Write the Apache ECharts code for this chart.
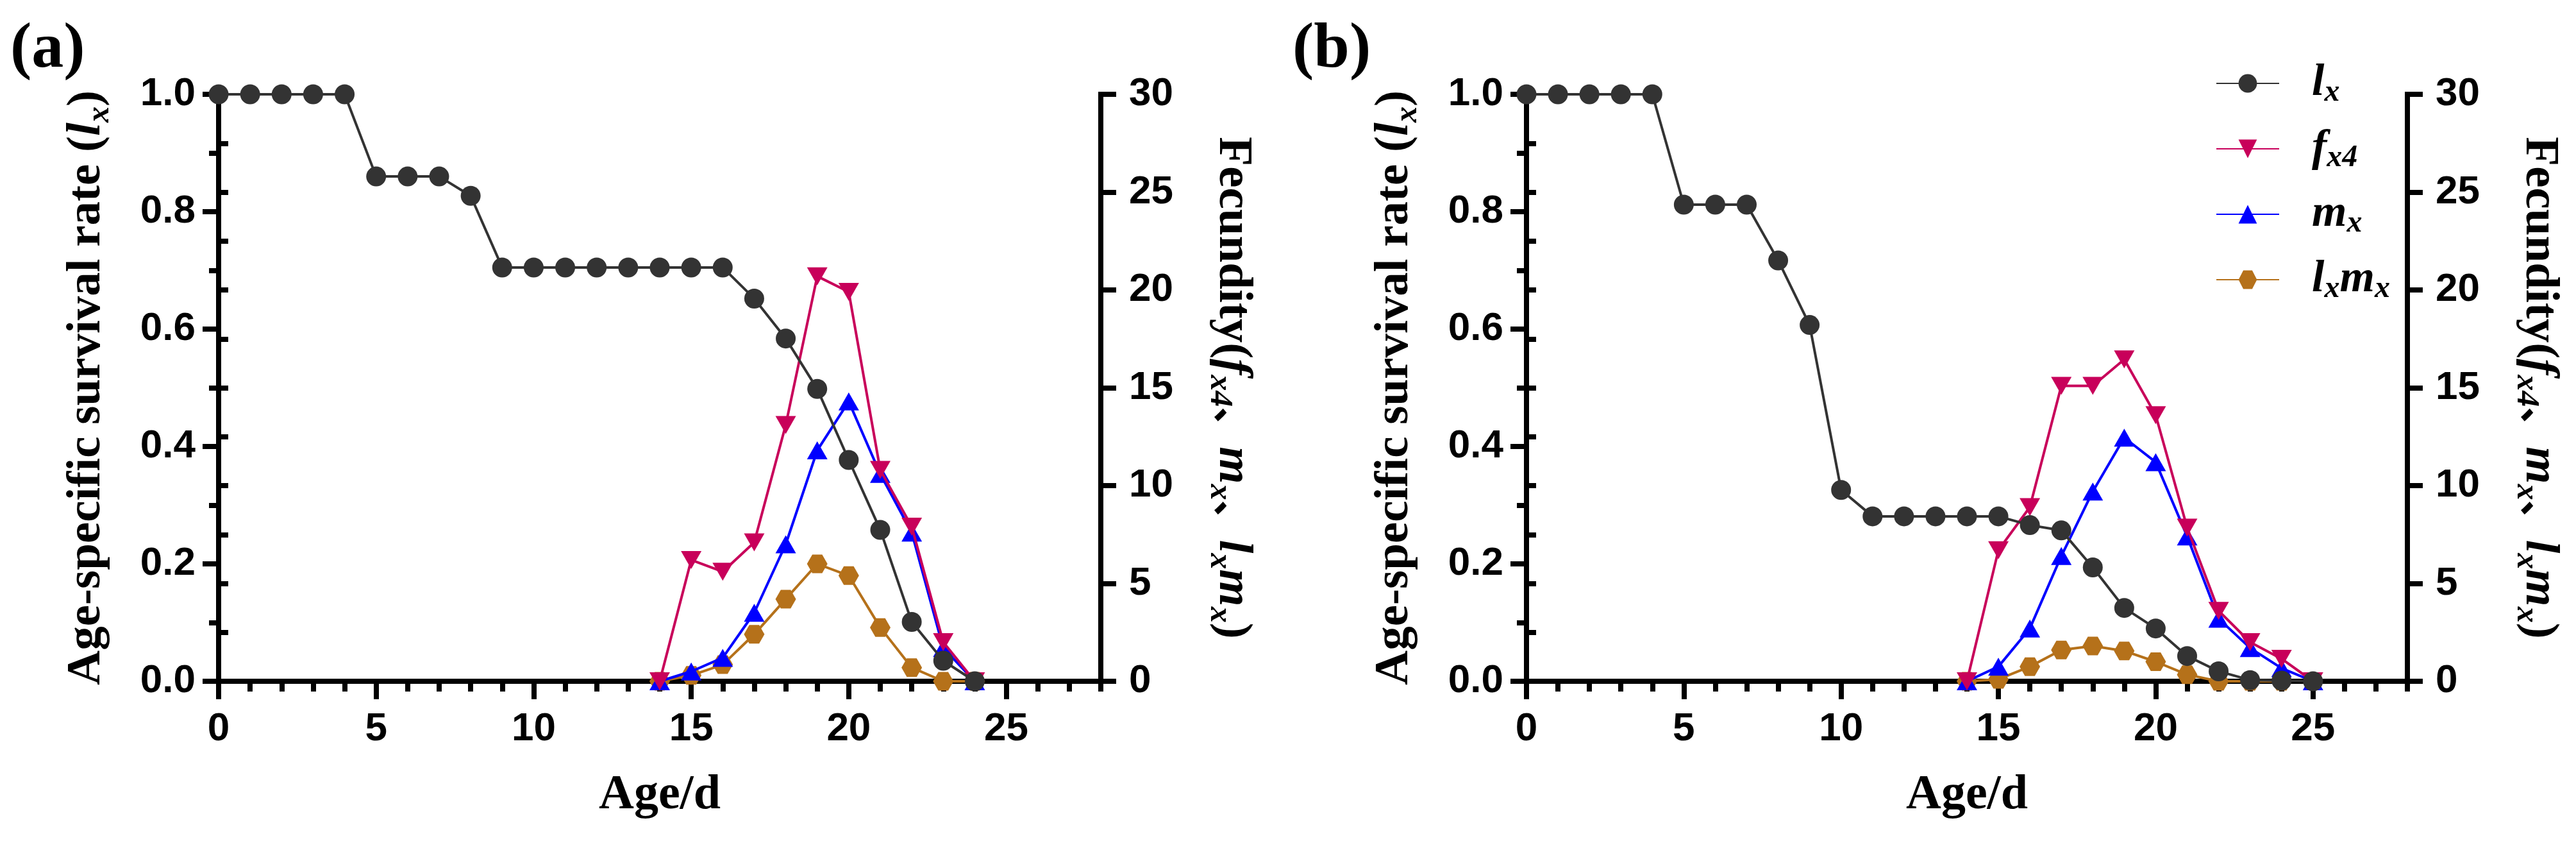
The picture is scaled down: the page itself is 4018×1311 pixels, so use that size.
<!DOCTYPE html>
<html>
<head>
<meta charset="utf-8">
<script src="https://cdn.jsdelivr.net/npm/echarts@6/dist/echarts.min.js"></script>
<style>
html,body{margin:0;padding:0;background:#fff}
#chart{width:4018px;height:1311px}
</style>
</head>
<body>
<div id="chart"></div>
<script>
// panel (a)
const agesA = [0,1,2,3,4,5,6,7,8,9,10,11,12,13,14,15,16,17,18,19,20,21,22,23,24];
const lxA = [1,1,1,1,1,0.86,0.86,0.86,0.827,0.705,0.705,0.705,0.705,0.705,0.705,0.705,0.705,0.652,0.584,0.498,0.377,0.258,0.101,0.035,0];
const fertAgesA = [14,15,16,17,18,19,20,21,22,23,24];
const fx4A = [0,6.2,5.6,7.1,13.1,20.7,19.9,10.8,7.9,2.0,0];
const mxA = [0,0.5,1.2,3.5,7.0,11.8,14.3,10.6,7.6,1.7,0];
const lxmxA = [0,0.3,0.85,2.4,4.2,6.0,5.4,2.75,0.7,0,0];

// panel (b)
const agesB = [0,1,2,3,4,5,6,7,8,9,10,11,12,13,14,15,16,17,18,19,20,21,22,23,24,25];
const lxB = [1,1,1,1,1,0.812,0.812,0.812,0.717,0.607,0.326,0.281,0.281,0.281,0.281,0.281,0.266,0.257,0.194,0.125,0.09,0.043,0.017,0.002,0.001,0];
const fertAgesB = [14,15,16,17,18,19,20,21,22,23,24,25];
const fx4B = [0,6.7,8.9,15.1,15.1,16.45,13.6,7.85,3.6,2.0,1.15,0];
const mxB = [0,0.75,2.7,6.4,9.7,12.45,11.2,7.4,3.2,1.7,0.67,0];
const lxmxAgesB = [14,15,16,17,18,19,20,21,22,23,24];
const lxmxB = [0,0.1,0.75,1.6,1.8,1.55,1.0,0.34,0,0,0];

const xTicks = [0,5,10,15,20,25];

const serif = 'Liberation Serif';
const sans = 'Liberation Sans';
const downTri = 'path://M0,0 L10,0 L5,8.66 Z';
const hexagon = 'path://M0,5 L2.6,0 L7.4,0 L10,5 L7.4,10 L2.6,10 Z';
const AXW = 8;

const chart = echarts.init(document.getElementById('chart'));

const titleRich = {
    t: {fontFamily: serif, fontWeight: 'bold', fontSize: 75, lineHeight: 90, color: '#000'},
    i: {fontFamily: serif, fontWeight: 'bold', fontStyle: 'italic', fontSize: 75, lineHeight: 90, color: '#000'},
    s: {fontFamily: serif, fontWeight: 'bold', fontStyle: 'italic', fontSize: 50, lineHeight: 50, verticalAlign: 'bottom', color: '#000'},
    c: {fontFamily: 'Noto Sans CJK SC', fontWeight: 'bold', fontSize: 62, lineHeight: 90, color: '#000'}
};
const leftName = '{t|Age-specific survival rate (}{i|l}{s|x}{t|)}';
const rightName = '{t|Fecundity(}{i|f}{s|x4}{c|、}{i|m}{s|x}{c|、}{i|l}{s|x}{i|m}{s|x}{t|)}';

function axisLine() {
    return {show: true, onZero: false, lineStyle: {color: '#000', width: AXW, cap: 'square'}};
}

function xAxis(grid) {
    return {
        type: 'value', gridIndex: grid, position: 'bottom', min: 0, max: 28, interval: 5,
        name: 'Age/d', nameLocation: 'middle', nameGap: 140,
        nameTextStyle: {fontFamily: serif, fontWeight: 'bold', fontSize: 76, color: '#000'},
        axisLine: axisLine(),
        axisTick: {show: true, length: 28, customValues: xTicks, lineStyle: {color: '#000', width: AXW}},
        axisLabel: {customValues: xTicks, margin: 44, fontFamily: sans, fontWeight: 'bold', fontSize: 62, color: '#000'},
        splitLine: {show: false}
    };
}

// short ticks only, drawn on the same scale as the main axis
function xMinor(grid) {
    return {
        type: 'value', gridIndex: grid, position: 'bottom', min: 0, max: 28, interval: 1,
        axisLine: {show: false},
        axisTick: {show: true, length: 16, lineStyle: {color: '#000', width: AXW}},
        axisLabel: {show: false}, splitLine: {show: false}
    };
}

function yLeft(grid) {
    return {
        type: 'value', gridIndex: grid, position: 'left', min: 0, max: 1, interval: 0.2,
        name: leftName, nameLocation: 'middle', nameRotate: 90, nameGap: 160,
        nameTextStyle: {rich: titleRich},
        axisLine: axisLine(),
        axisTick: {show: true, length: 25, lineStyle: {color: '#000', width: AXW}},
        axisLabel: {margin: 36, fontFamily: sans, fontWeight: 'bold', fontSize: 62, color: '#000',
            formatter: v => v.toFixed(1)},
        splitLine: {show: false}
    };
}

function yRight(grid) {
    return {
        type: 'value', gridIndex: grid, position: 'right', min: 0, max: 30, interval: 5,
        name: rightName, nameLocation: 'middle', nameRotate: -90, nameGap: 160,
        nameTextStyle: {rich: titleRich},
        axisLine: axisLine(),
        axisTick: {show: true, length: 24, lineStyle: {color: '#000', width: AXW}},
        axisLabel: {margin: 44, fontFamily: sans, fontWeight: 'bold', fontSize: 62, color: '#000'},
        splitLine: {show: false}
    };
}

function yMinor(grid, pos, max, step) {
    return {
        type: 'value', gridIndex: grid, position: pos, min: 0, max: max, interval: step,
        axisLine: {show: false},
        axisTick: {show: true, length: 15, lineStyle: {color: '#000', width: AXW}},
        axisLabel: {show: false}, splitLine: {show: false}
    };
}

function line(name, grid, yIdx, ages, vals, symbol, size, color, z) {
    return {
        name: name, type: 'line', xAxisIndex: grid, yAxisIndex: yIdx,
        data: ages.map((a, i) => [a, vals[i]]),
        symbol: symbol, symbolSize: size, showAllSymbol: true, z: z,
        itemStyle: {color: color, opacity: 1},
        lineStyle: {color: color, width: 4},
        emphasis: {disabled: true}
    };
}

const cLx = '#333333', cFx = '#C8005A', cMx = '#0000FF', cLm = '#B5711A';

const legendNames = {
    lx: '{g|}{i|l}{s|x}',
    fx4: '{g|}{i|f}{s|x4}',
    mx: '{g|}{i|m}{s|x}',
    lxmx: '{g|}{i|l}{s|x}{i|m}{s|x}'
};

chart.setOption({
    animation: false,
    backgroundColor: '#fff',
    title: [
        {text: '(a)', left: 16, top: 28, padding: 0, textStyle: {fontFamily: serif, fontWeight: 'bold', fontSize: 100, color: '#000'}},
        {text: '(b)', left: 2016, top: 28, padding: 0, textStyle: {fontFamily: serif, fontWeight: 'bold', fontSize: 100, color: '#000'}}
    ],
    legend: {
        orient: 'vertical', left: 3456, top: 95, padding: 0, itemGap: 28,
        itemWidth: 98, itemHeight: 36,
        data: ['lx', 'fx4', 'mx', 'lxmx'],
        formatter: n => legendNames[n],
        textStyle: {
            rich: {
                g: {width: 46},
                i: {fontFamily: serif, fontWeight: 'bold', fontStyle: 'italic', fontSize: 70, lineHeight: 78, color: '#000'},
                s: {fontFamily: serif, fontWeight: 'bold', fontStyle: 'italic', fontSize: 48, lineHeight: 48, verticalAlign: 'bottom', color: '#000'}
            }
        }
    },
    grid: [
        {left: 341, top: 147, width: 1376, height: 915},
        {left: 2381, top: 147, width: 1374, height: 915}
    ],
    xAxis: [xAxis(0), xAxis(1), xMinor(0), xMinor(1)],
    yAxis: [yLeft(0), yRight(0), yLeft(1), yRight(1),
        yMinor(0, 'left', 1, 0.1), yMinor(0, 'right', 30, 2.5),
        yMinor(1, 'left', 1, 0.1), yMinor(1, 'right', 30, 2.5)],
    series: [
        line('lx', 0, 0, agesA, lxA, 'circle', 31, cLx, 5),
        line('fx4', 0, 1, fertAgesA, fx4A, downTri, [32, 28], cFx, 4),
        line('mx', 0, 1, fertAgesA, mxA, 'triangle', [32, 28], cMx, 3),
        line('lxmx', 0, 1, fertAgesA, lxmxA, hexagon, [32, 29], cLm, 2),
        line('lx', 1, 2, agesB, lxB, 'circle', 31, cLx, 5),
        line('fx4', 1, 3, fertAgesB, fx4B, downTri, [32, 28], cFx, 4),
        line('mx', 1, 3, fertAgesB, mxB, 'triangle', [32, 28], cMx, 3),
        line('lxmx', 1, 3, lxmxAgesB, lxmxB, hexagon, [32, 29], cLm, 2)
    ]
});
</script>
</body>
</html>
